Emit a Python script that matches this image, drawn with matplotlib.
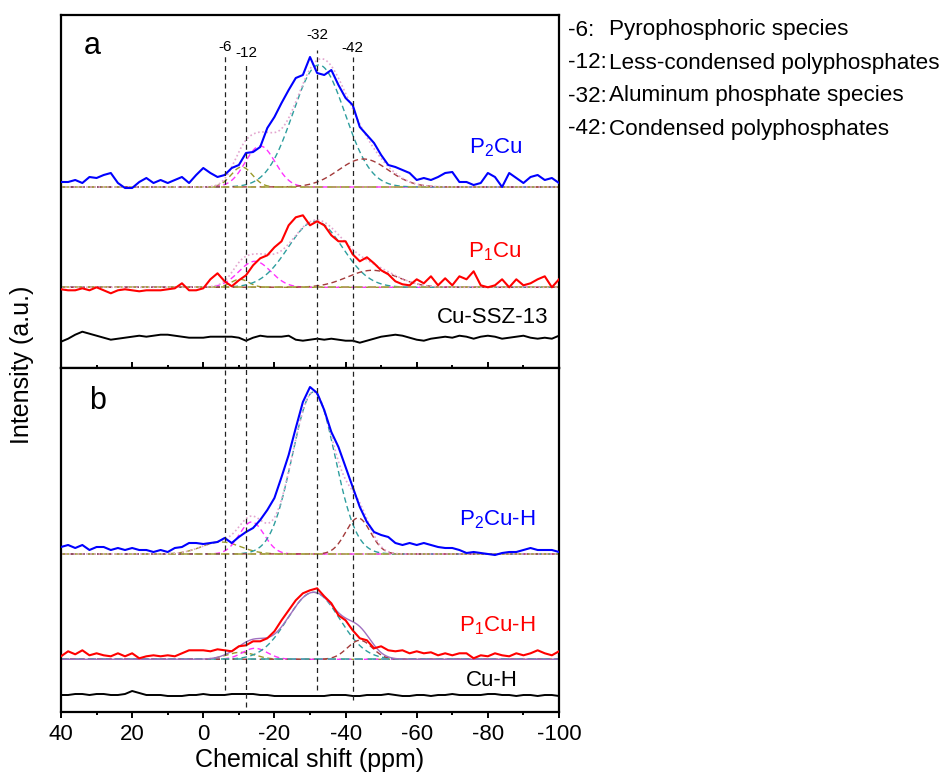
import numpy as np
import matplotlib
matplotlib.use("Agg")
import matplotlib.pyplot as plt
from matplotlib.ticker import MultipleLocator

plt.rcParams['font.family'] = ['Liberation Sans', 'DejaVu Sans']
plt.rcParams['axes.unicode_minus'] = False
plt.rcParams['mathtext.fontset'] = 'custom'
plt.rcParams['mathtext.rm'] = 'Liberation Sans'
plt.rcParams['mathtext.it'] = 'Liberation Sans:italic'
plt.rcParams['mathtext.default'] = 'regular'

# chemical shift grid of the measured spectra (ppm)
shift = np.arange(40, -101, -2)

# 31P NMR intensities (a.u., relative to each trace's own baseline)
p2cu = [5, 5, 7, 4, 10, 9, 12, 14, 4, -1,
        -1, 5, 9, 4, 7, 4, 7, 10, 4, 12,
        19, 14, 10, 12, 19, 22, 34, 35, 40, 59,
        70, 84, 97, 109, 112, 130, 114, 112, 117, 102,
        89, 82, 60, 52, 44, 32, 22, 20, 17, 14,
        7, 9, 7, 10, 14, 15, 5, 5, 2, 4,
        14, 10, 0, 14, 9, 4, 10, 12, 7, 9,
        4]
p1cu = [-2, -3, -3, -1, -3, 0, -3, -6, -3, -2,
        -3, -4, -3, -3, -3, -2, -1, 4, -3, -3,
        -1, 8, 14, 6, 1, 7, 12, 22, 29, 32,
        40, 46, 62, 70, 72, 62, 66, 62, 52, 46,
        46, 33, 26, 30, 24, 17, 13, 6, 3, 2,
        8, 4, 11, 2, 9, 2, 11, 8, 16, 2,
        0, 2, 8, 0, 8, 2, 4, 8, 11, 0,
        8]
cu_ssz13 = [-5, -2, 2, 5, 3, 1, -1, -3, -2, -1,
            0, 1, 0, 1, 2, 2, 1, 0, -1, -1,
            -1, 0, 0, 0, 0, -1, -4, -1, 1, 0,
            0, 0, 1, -3, -4, -3, -2, -3, -2, -3,
            -4, -4, -6, -4, -2, 0, 1, 2, 1, -1,
            -3, -4, -2, -1, 0, -1, 1, 0, -2, 0,
            1, 0, -2, -1, 0, 1, -1, -2, -1, -2,
            1]
p2cu_h = [7, 9, 6, 9, 4, 7, 7, 4, 6, 4,
          6, 4, 4, 2, 4, 2, 6, 7, 11, 11,
          10, 11, 12, 16, 11, 17, 22, 26, 34, 44,
          56, 77, 99, 126, 152, 167, 161, 144, 122, 107,
          87, 67, 47, 32, 22, 19, 17, 11, 9, 11,
          9, 11, 9, 7, 6, 6, 4, 1, 2, 1,
          0, -1, 1, 2, 2, 4, 6, 4, 4, 4,
          2]
p1cu_h = [3, 8, 5, 9, 4, 6, 4, 3, 6, 3,
          6, 1, 3, 4, 3, 4, 3, 6, 9, 9,
          9, 8, 10, 9, 8, 13, 14, 18, 18, 21,
          28, 39, 49, 59, 66, 69, 71, 63, 56, 44,
          39, 29, 21, 19, 11, 13, 9, 8, 9, 6,
          8, 6, 7, 4, 6, 4, 6, 6, 1, 4,
          3, 6, 4, 3, 6, 4, 6, 9, 6, 4,
          8]
cu_h = [0, 0, 1, 1, 0, 1, 1, 0, 0, 1,
        4, 2, 0, 0, 0, -1, -1, -1, 0, 0,
        1, 0, 0, 0, 1, 1, 1, 1, 0, 0,
        -1, -1, -1, -1, -1, -1, -1, -1, 0, 0,
        0, -1, -1, 0, 0, 0, 1, 0, -1, -1,
        0, 0, -1, 0, 0, 1, 0, 0, 0, 0,
        1, 1, 0, 0, -1, 0, 0, -1, 0, 0,
        -1]

# vertical stacking offsets of the traces
offset_p2cu, offset_p1cu, offset_cu_ssz13 = 181.0, 80.7, 31.3
offset_p2cu_h, offset_p1cu_h, offset_cu_h = 158.0, 52.7, 17.0

# Gaussian deconvolution: centres (ppm), heights (a.u.), widths (ppm)
fit_p2cu = dict(center=[-10.8, -16.0, -32.5, -45.0], height=[20, 41, 122, 28], width=[3.0, 4.2, 7.3, 7.0])
fit_p1cu = dict(center=[-10.3, -14.5, -31.5, -47.5], height=[8, 26, 66, 17], width=[2.5, 4.5, 7.6, 7.0])
fit_p2cu_h = dict(center=[-5.0, -13.6, -31.0, -43.5], height=[12, 32, 162, 36], width=[5.5, 3.5, 6.0, 3.5])
fit_p1cu_h = dict(center=[-10.5, -14.5, -31.0, -44.0], height=[7, 11, 67, 19], width=[4.0, 3.5, 7.3, 3.5])

# reference positions of the phosphate species
peak_positions = [-6, -12, -32, -42]
peak_labels = ['-6', '-12', '-32', '-42']
assign_keys = ['-6:', '-12:', '-32:', '-42:']
assign_names = ['Pyrophosphoric species', 'Less-condensed polyphosphates',
                'Aluminum phosphate species', 'Condensed polyphosphates']

comp_colors = ['#9a9a2a', '#ff33ff', '#2e9e9e', '#a33a3a']
fine = np.linspace(40, -100, 1401)


def gauss(c, h, w):
    return h * np.exp(-0.5 * ((fine - c) / w) ** 2)


def draw_fit(ax, fit, base, base_color, sum_style):
    total = np.zeros_like(fine)
    for c, h, w, col in zip(fit['center'], fit['height'], fit['width'], comp_colors):
        g = gauss(c, h, w)
        total += g
        ax.plot(fine, base + g, color=col, lw=1.0, ls=(0, (4, 2.5)), zorder=2)
    ax.axhline(base, color=base_color, lw=1.2, ls=(0, (5, 3)), zorder=2)
    ax.plot(fine, base + total, zorder=2, **sum_style)


fig = plt.figure(figsize=(9.46, 7.74), dpi=100)
W, H = 946, 774
x0, x1 = 61, 559
ax_a = fig.add_axes([x0 / W, 1 - 368 / H, (x1 - x0) / W, (368 - 15) / H])
ax_b = fig.add_axes([x0 / W, 1 - 712 / H, (x1 - x0) / W, (712 - 368) / H])

pink_dots = dict(color='#e3a6cf', lw=1.2, ls=(0, (1, 1.5)))

# panel a
draw_fit(ax_a, fit_p2cu, offset_p2cu, '#a8a848', pink_dots)
draw_fit(ax_a, fit_p1cu, offset_p1cu, '#a8a848', pink_dots)
ax_a.plot(shift, offset_p2cu + np.array(p2cu), color='#0000ff', lw=1.5, zorder=3)
ax_a.plot(shift, offset_p1cu + np.array(p1cu), color='#ff0000', lw=1.5, zorder=3)
ax_a.plot(shift, offset_cu_ssz13 + np.array(cu_ssz13), color='black', lw=1.4, zorder=3)
ax_a.set_ylim(0, 353)

# panel b
draw_fit(ax_b, fit_p2cu_h, offset_p2cu_h, '#a8a848', pink_dots)
draw_fit(ax_b, fit_p1cu_h, offset_p1cu_h, '#40a8a8', dict(color='#a070c0', lw=1.0, ls='-'))
ax_b.plot(shift, offset_p2cu_h + np.array(p2cu_h), color='#0000ff', lw=1.5, zorder=3)
ax_b.plot(shift, offset_p1cu_h + np.array(p1cu_h), color='#ff0000', lw=1.5, zorder=3)
ax_b.plot(shift, offset_cu_h + np.array(cu_h), color='black', lw=1.4, zorder=3)
ax_b.set_ylim(0, 344)

# dashed guide lines through both panels
tops_a = [313, 303, 318, 311]
bottoms_b = [22, 5, 22, 12]
label_y = [321, 315, 333, 320.5]
for p, lab, ta, bb, ly in zip(peak_positions, peak_labels, tops_a, bottoms_b, label_y):
    ax_a.plot([p, p], [0, ta], color='#222222', lw=0.9, ls=(0, (4, 3)), zorder=4)
    ax_b.plot([p, p], [bb, 344], color='#222222', lw=0.9, ls=(0, (4, 3)), zorder=4)
    ax_a.text(p, ly, lab, ha='center', va='center', fontsize=11)

for ax in (ax_a, ax_b):
    ax.set_xlim(40, -100)
    ax.xaxis.set_major_locator(MultipleLocator(20))
    ax.xaxis.set_minor_locator(MultipleLocator(10))
    ax.set_yticks([])
    for s in ax.spines.values():
        s.set_linewidth(1.6)

ax_a.tick_params(axis='x', which='both', direction='in', top=False, labelbottom=False, width=1.4)
ax_a.tick_params(axis='x', which='major', length=4)
ax_a.tick_params(axis='x', which='minor', length=2)
ax_b.tick_params(axis='x', which='both', direction='out', top=False, width=1.4, labelsize=16, pad=4)
ax_b.tick_params(axis='x', which='major', length=4.5)
ax_b.tick_params(axis='x', which='minor', length=2.5)
ax_b.set_xlabel('Chemical shift (ppm)', fontsize=18, labelpad=2)

# trace labels
ax_a.text(-82.3, 220, 'P$_2$Cu', color='#0000ff', fontsize=16, ha='center', va='center')
ax_a.text(-82.0, 116.5, 'P$_1$Cu', color='#ff0000', fontsize=16, ha='center', va='center')
ax_a.text(-81.3, 50.5, 'Cu-SSZ-13', color='black', fontsize=16, ha='center', va='center')
ax_b.text(-82.7, 192, 'P$_2$Cu-H', color='#0000ff', fontsize=16, ha='center', va='center')
ax_b.text(-82.5, 86, 'P$_1$Cu-H', color='#ff0000', fontsize=16, ha='center', va='center')
ax_b.text(-81.0, 32, 'Cu-H', color='black', fontsize=16, ha='center', va='center')

ax_a.text(0.063, 0.911, 'a', transform=ax_a.transAxes, fontsize=22, ha='center', va='center')
ax_b.text(0.074, 0.903, 'b', transform=ax_b.transAxes, fontsize=22, ha='center', va='center')

fig.text(0.023, 1 - 365 / H, 'Intensity (a.u.)', rotation=90, fontsize=18, ha='center', va='center')

# peak assignments
for i, (k, name) in enumerate(zip(assign_keys, assign_names)):
    y = 1 - (30 + 33 * i) / H
    fig.text(568 / W, y, k, fontsize=16.2, ha='left', va='center')
    fig.text(609 / W, y, name, fontsize=16.2, ha='left', va='center')

fig.savefig('out.png', dpi=100)
